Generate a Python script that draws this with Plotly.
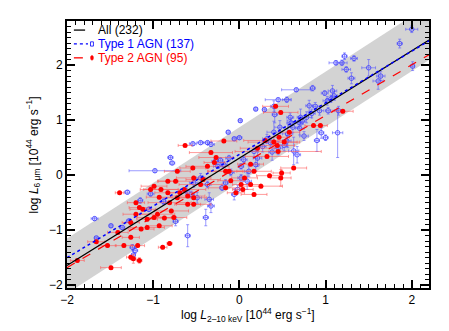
import plotly.graph_objects as go

# Type 1 AGN: log L(2-10 keV), log L(6 um), errors
t1_x = [2.00, 1.86, 2.01, 1.33, 1.22, 1.19, 1.12, 1.24, 1.50, 1.30, 1.64, 1.61, 0.66, 0.85, 0.55,
        0.45, 0.40, 0.29, 0.19, 0.41, 0.59, 0.81, 0.88, 0.93, 0.99, 1.08, 1.10, 1.06, 1.15, 1.03,
        0.71, 0.69, 0.62, 0.47, 0.01, -0.13, -0.06, 0.00, 0.40, 0.56, 0.75, 0.95, 1.00, 0.90, 1.14,
        0.36, 0.45, 0.63, 0.67, 0.52, -0.45, -0.37, -0.33, -0.54, -0.80, -0.78, -0.98, 0.17, 0.21, 0.02,
        -0.25, -0.18, -0.12, 0.05, 0.11, 0.19, 0.02, 0.09, -0.06, -0.02, -0.20, -0.16, -0.37, -0.53, -0.56,
        -0.49, -0.35, -0.33, -0.39, -0.60, -0.74, -1.03, -1.15, -1.30, -1.68, -1.49, -1.36, -1.28, -1.24, -1.21,
        -1.66, -1.23, -0.28, -0.22, 0.60, 0.73, 0.78, 0.84, 0.70, 0.32, 0.27, -0.10, -0.45, -0.62, -0.88,
        -1.05, 1.02, 0.55, 0.38]
t1_y = [2.65, 2.39, 1.98, 2.12, 2.16, 2.04, 2.04, 1.92, 1.95, 1.76, 1.80, 1.71, 1.55, 1.58, 1.37,
        1.37, 1.25, 1.19, 1.20, 1.10, 1.05, 1.26, 1.25, 1.17, 1.49, 1.53, 1.44, 1.38, 1.17, 1.17,
        1.05, 0.96, 0.87, 0.87, 0.99, 0.78, 0.66, 0.68, 0.78, 0.75, 0.71, 0.77, 0.68, 0.63, 0.77,
        0.59, 0.49, 0.44, 0.37, 0.54, 0.59, 0.59, 0.56, 0.57, 0.32, 0.22, 0.08, 0.43, 0.31, 0.16,
        0.16, 0.19, 0.31, 0.28, 0.07, 0.19, -0.05, -0.11, -0.35, -0.26, -0.23, -0.14, -0.17, -0.14, -0.35,
        -0.41, -0.44, -0.56, -0.77, -1.10, -0.84, -0.34, -0.46, -0.31, -0.79, -0.92, -0.95, -0.83, -1.31, -1.37,
        -1.14, -1.45, 0.25, 0.27, 0.95, 0.98, 1.05, 1.12, 0.85, 0.66, 0.52, 0.05, -0.05, -0.28, -0.48,
        -0.62, 1.35, 0.62, 0.42]
t1_xerr = [0.07, 0.03, 0.02, 0.04, 0.03, 0.06, 0.08, 0.05, 0.08, 0.04, 0.05, 0.06, 0.17, 0.03, 0.05,
           0.15, 0.04, 0.02, 0.02, 0.03, 0.04, 0.04, 0.03, 0.05, 0.04, 0.05, 0.04, 0.05, 0.05, 0.03,
           0.04, 0.05, 0.05, 0.06, 0.02, 0.02, 0.02, 0.03, 0.08, 0.06, 0.05, 0.03, 0.03, 0.03, 0.06,
           0.05, 0.05, 0.06, 0.04, 0.04, 0.04, 0.05, 0.04, 0.04, 0.03, 0.03, 0.30, 0.05, 0.05, 0.03,
           0.05, 0.04, 0.04, 0.04, 0.05, 0.04, 0.04, 0.05, 0.03, 0.03, 0.03, 0.03, 0.04, 0.05, 0.04,
           0.05, 0.05, 0.04, 0.03, 0.03, 0.03, 0.04, 0.03, 0.03, 0.04, 0.02, 0.03, 0.03, 0.03, 0.03,
           0.02, 0.02, 0.04, 0.03, 0.05, 0.04, 0.06, 0.04, 0.05, 0.05, 0.04, 0.04, 0.05, 0.04, 0.03,
           0.03, 0.05, 0.05, 0.04]
t1_yerr = [0.06, 0.08, 0.08, 0.05, 0.06, 0.05, 0.04, 0.05, 0.15, 0.10, 0.08, 0.15, 0.03, 0.05, 0.05,
           0.03, 0.10, 0.03, 0.03, 0.15, 0.08, 0.10, 0.07, 0.08, 0.04, 0.10, 0.08, 0.06, 0.08, 0.06,
           0.15, 0.10, 0.10, 0.12, 0.03, 0.03, 0.03, 0.03, 0.20, 0.25, 0.08, 0.10, 0.05, 0.20, 0.45,
           0.08, 0.12, 0.25, 0.15, 0.10, 0.03, 0.03, 0.04, 0.03, 0.03, 0.03, 0.03, 0.10, 0.15, 0.05,
           0.04, 0.05, 0.05, 0.06, 0.10, 0.12, 0.06, 0.15, 0.10, 0.08, 0.05, 0.06, 0.06, 0.08, 0.06,
           0.10, 0.12, 0.12, 0.15, 0.20, 0.08, 0.04, 0.05, 0.03, 0.03, 0.03, 0.03, 0.03, 0.05, 0.05,
           0.02, 0.10, 0.05, 0.05, 0.08, 0.06, 0.10, 0.08, 0.12, 0.08, 0.10, 0.06, 0.08, 0.06, 0.05,
           0.04, 0.08, 0.10, 0.15]

# Type 2 AGN
t2_x = [1.20, 0.42, 0.48, 0.94, 0.86, -0.63, -0.18, -0.33, -0.27, -0.29, 0.30, 0.40, 0.44, 0.46, 0.32,
        0.13, 0.45, 0.35, 0.49, 0.48, 0.13, 0.02, -0.04, -0.10, -0.16, -0.37, -0.42, -0.54, -0.53, -0.72,
        -0.74, -0.83, -0.99, -1.03, -0.91, -0.83, -0.64, -0.60, -0.53, -0.72, -0.81, -0.93, -0.79, -0.76, -0.87,
        -0.93, -0.99, -1.07, -1.12, -1.20, -1.16, -1.20, -1.26, -1.39, -1.26, -1.18, -1.16, -1.26, -1.23, -1.34,
        -1.41, -1.53, -1.66, -1.88, -1.49, -0.89, -0.81, -1.14, -1.07, -0.95, 0.04, -0.12, 0.06, 0.17, 0.63,
        0.17, 0.52, 0.58, 0.21, -0.16, -0.45, -0.60, -0.53, -0.69, 0.25]
t2_y = [1.16, 1.25, 1.14, 0.90, 0.90, 0.54, 0.62, 0.41, 0.32, 0.23, 0.63, 0.60, 0.54, 0.69, 0.34,
        0.20, 0.43, -0.01, 0.04, -0.05, -0.17, -0.17, -0.32, -0.10, -0.23, 0.16, -0.08, 0.13, -0.05, 0.07,
        -0.11, -0.11, -0.20, -0.26, -0.26, -0.32, -0.26, -0.38, -0.41, -0.41, -0.50, -0.40, -0.65, -0.77, -0.78,
        -0.92, -0.77, -0.80, -0.62, -0.50, -0.59, -0.71, -0.86, -0.32, -1.13, -1.28, -1.55, -1.49, -1.52, -1.28,
        -1.04, -1.28, -1.21, -1.55, -1.68, -1.31, -1.24, -0.98, -0.95, -0.71, -0.26, 0.07, -0.05, 0.07, 0.13,
        -0.35, 0.60, 0.78, 0.49, 0.07, -0.17, -0.53, -0.53, -0.32, -0.20]
t2_xerr = [0.12, 0.15, 0.20, 0.08, 0.10, 0.08, 0.15, 0.25, 0.20, 0.12, 0.25, 0.30, 0.20, 0.12, 0.25,
           0.15, 0.50, 0.15, 0.10, 0.12, 0.12, 0.10, 0.10, 0.15, 0.20, 0.25, 0.20, 0.15, 0.20, 0.15,
           0.20, 0.12, 0.15, 0.12, 0.20, 0.15, 0.25, 0.20, 0.15, 0.20, 0.25, 0.15, 0.20, 0.15, 0.12,
           0.15, 0.20, 0.12, 0.15, 0.10, 0.12, 0.15, 0.10, 0.05, 0.10, 0.08, 0.03, 0.05, 0.03, 0.10,
           0.12, 0.10, 0.10, 0.08, 0.12, 0.05, 0.03, 0.15, 0.20, 0.20, 0.12, 0.25, 0.15, 0.20, 0.15,
           0.15, 0.15, 0.12, 0.20, 0.20, 0.25, 0.15, 0.20, 0.15, 0.25]
t2_yerr = [0.03, 0.03, 0.03, 0.03, 0.03, 0.02, 0.03, 0.03, 0.03, 0.03, 0.03, 0.04, 0.03, 0.03, 0.03,
           0.03, 0.03, 0.03, 0.05, 0.15, 0.03, 0.03, 0.03, 0.03, 0.03, 0.03, 0.03, 0.03, 0.03, 0.03,
           0.03, 0.03, 0.03, 0.03, 0.03, 0.03, 0.03, 0.03, 0.03, 0.03, 0.03, 0.03, 0.03, 0.03, 0.03,
           0.03, 0.03, 0.03, 0.03, 0.03, 0.03, 0.03, 0.03, 0.02, 0.03, 0.03, 0.05, 0.03, 0.08, 0.03,
           0.03, 0.03, 0.03, 0.03, 0.03, 0.03, 0.03, 0.03, 0.03, 0.03, 0.03, 0.03, 0.03, 0.03, 0.03,
           0.03, 0.03, 0.03, 0.03, 0.03, 0.03, 0.03, 0.03, 0.03, 0.03]

# fitted relations (slope, intercept) and scatter band
fit_x = [-2.0, 2.2]
fit_all = (0.975, 0.31)
fit_t1 = (0.938, 0.376)
fit_t2 = (0.921, 0.162)
band = (1.01, 0.37, 0.5)  # slope, intercept, half width

legend_labels = ["All (232)", "Type 1 AGN (137)", "Type 2 AGN (95)"]

FONT = "Liberation Sans, Arial, sans-serif"
BLUE = "#0000ff"
RED = "#ff0000"


def line_y(params):
    s, c = params
    return [c + s * x for x in fit_x]


fig = go.Figure()

bs, bc, bw = band
fig.add_trace(go.Scatter(x=fit_x, y=[bc - bw + bs * x for x in fit_x], mode="lines",
                         line=dict(width=0, color="#d3d3d3"), showlegend=False, hoverinfo="skip"))
fig.add_trace(go.Scatter(x=fit_x, y=[bc + bw + bs * x for x in fit_x], mode="lines",
                         line=dict(width=0, color="#d3d3d3"), fill="tonexty",
                         fillcolor="#d3d3d3", showlegend=False, hoverinfo="skip"))

fig.add_trace(go.Scatter(
    x=t1_x, y=t1_y, mode="markers", showlegend=False,
    marker=dict(symbol="circle-open", size=4.5, color="rgba(60,60,255,0.8)", line=dict(width=1)),
    error_x=dict(type="data", array=t1_xerr, color="rgba(90,90,255,0.6)", thickness=1, width=1.5),
    error_y=dict(type="data", array=t1_yerr, color="rgba(90,90,255,0.6)", thickness=1, width=1.5),
))
fig.add_trace(go.Scatter(
    x=t2_x, y=t2_y, mode="markers", showlegend=False,
    marker=dict(symbol="circle", size=5, color=RED),
    error_x=dict(type="data", array=t2_xerr, color="rgba(255,90,90,0.6)", thickness=1, width=1.5),
    error_y=dict(type="data", array=t2_yerr, color="rgba(255,90,90,0.6)", thickness=1, width=1.5),
))

fig.add_trace(go.Scatter(x=fit_x, y=line_y(fit_all), mode="lines", showlegend=False,
                         line=dict(color="black", width=1.2)))
fig.add_trace(go.Scatter(x=fit_x, y=line_y(fit_t1), mode="lines", showlegend=False,
                         line=dict(color=BLUE, width=1.5, dash="dot")))
fig.add_trace(go.Scatter(x=fit_x, y=line_y(fit_t2), mode="lines", showlegend=False,
                         line=dict(color=RED, width=1.2, dash="dash")))

# hand-made legend, IDL style: line sample, symbol, coloured label
rows_y = [0.966, 0.914, 0.862]
legend_colors = ["black", BLUE, RED]
legend_dash = ["solid", "dot", "dash"]
shapes = []
annotations = []
for i, lab in enumerate(legend_labels):
    yy = rows_y[i]
    shapes.append(dict(type="line", xref="paper", yref="paper", x0=0.019, x1=0.050 if i == 0 else 0.058,
                       y0=yy, y1=yy, line=dict(color=legend_colors[i], width=1.3, dash=legend_dash[i])))
    annotations.append(dict(xref="paper", yref="paper", x=0.081, y=yy, xanchor="left", yanchor="middle",
                            text=lab, showarrow=False, font=dict(size=12, color=legend_colors[i])))
shapes.append(dict(type="rect", xref="paper", yref="paper", x0=0.065, x1=0.073, y0=rows_y[1] - 0.008,
                   y1=rows_y[1] + 0.008, line=dict(color=BLUE, width=0.8)))
shapes.append(dict(type="circle", xref="paper", yref="paper", x0=0.065, x1=0.073, y0=rows_y[2] - 0.009,
                   y1=rows_y[2] + 0.009, line=dict(color=RED, width=0.5), fillcolor=RED))

annotations.append(dict(xref="paper", yref="paper", x=0.5, y=-0.101, xanchor="center", yanchor="middle",
                        showarrow=False, font=dict(size=12),
                        text="log <i>L</i><sub>2\u201310 keV</sub> [10<sup>44</sup> erg s<sup>\u22121</sup>]"))
annotations.append(dict(xref="paper", yref="paper", x=-0.094, y=0.5, xanchor="center", yanchor="middle",
                        showarrow=False, font=dict(size=12), textangle=-90,
                        text="log <i>L</i><sub>6 \u03bcm</sub> [10<sup>44</sup> erg s<sup>\u22121</sup>]"))

axis = dict(showline=True, linewidth=2, linecolor="black", mirror="allticks",
            ticks="inside", ticklen=8, tickwidth=1.5, tickcolor="black",
            showgrid=False, zeroline=False, tickfont=dict(size=12, color="black"),
            minor=dict(dtick=0.1, ticks="inside", ticklen=4, tickwidth=1, tickcolor="black",
                       showgrid=False))

# the page body keeps its default 8px margin, so the figure is 8px smaller
# and the top/left margins are reduced by the same amount
fig.update_layout(
    width=441, height=323,
    margin=dict(l=59, r=20, t=13, b=43),
    paper_bgcolor="white", plot_bgcolor="white",
    font=dict(family=FONT, size=12, color="black"),
    xaxis=dict(axis, range=[-2, 2.2], tickvals=[-2, -1, 0, 1, 2]),
    yaxis=dict(axis, range=[-2.05, 2.8], tickvals=[-2, -1, 0, 1, 2]),
    shapes=shapes,
    annotations=annotations,
    showlegend=False,
)

fig.write_html("out.html")
